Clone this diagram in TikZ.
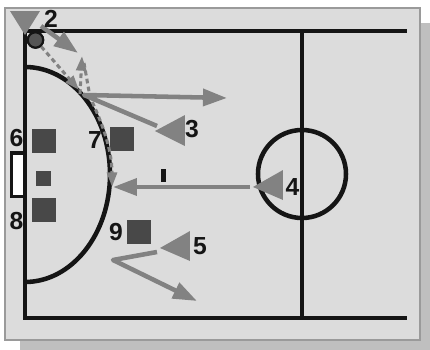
\documentclass[tikz,border=0pt]{standalone}
\usepackage{fontspec}
\setmainfont{Liberation Sans}
\usetikzlibrary{arrows.meta}
\definecolor{panelbg}{HTML}{DCDCDC}
\definecolor{shadowgray}{HTML}{BFBFBF}
\definecolor{bordergray}{HTML}{9A9A9A}
\definecolor{fieldline}{HTML}{151515}
\definecolor{arrowgray}{HTML}{828282}
\definecolor{squaregray}{HTML}{484848}
\definecolor{ballgray}{HTML}{555555}
\begin{document}
\begin{tikzpicture}[x=0.75pt,y=-0.75pt,
  field/.style={draw=fieldline, line width=3.4pt},
  move/.style={draw=arrowgray, line width=3.4pt, line join=round, -{Triangle[length=18pt,width=12.5pt]}},
  pass/.style={draw=arrowgray, line width=2.3pt, dash pattern=on 3.5pt off 2.5pt, -{Triangle[length=11pt,width=7.5pt]}},
  lbl/.style={font=\fontsize{18.5}{18.5}\selectfont\bfseries, inner sep=0pt, text=fieldline},
  player/.style={fill=arrowgray},
  defender/.style={fill=squaregray, draw=none, minimum size=18pt, inner sep=0pt},
  ballstyle/.style={circle, fill=ballgray, draw=fieldline, line width=1.6pt, minimum size=11.5pt, inner sep=0pt},
]
\useasboundingbox (0,0) rectangle (430,350);
% panel and shadow
\fill[shadowgray] (20,23) rectangle (430,350);
\filldraw[fill=panelbg, draw=bordergray, line width=1.1pt] (5,8) rectangle (420,340);
% field
\draw[field] (407,31) -- (25,31) -- (25,318) -- (407,318);
\draw[field] (302,31) -- (302,318);
\draw[field] (302,174) circle[radius=44];
\draw[field] (25,67) arc[start angle=-90, end angle=90, x radius=85, y radius=107.5];
\draw[draw=fieldline, line width=2.6pt, fill=white] (11.5,153) rectangle (25,196.5);
% defenders
\node[defender] (p6) at (44.5,141) {};
\node[defender, minimum size=11.25pt] (gk) at (44,178) {};
\node[defender] (p8) at (44.5,209.5) {};
\node[defender] (p7) at (122,138.5) {};
\node[defender] (p9) at (139,232) {};
% marker
\node[fill=fieldline, minimum width=3.75pt, minimum height=9.75pt, inner sep=0pt] (mark) at (164,175) {};
% ball (anchor for the pass)
\node[ballstyle] (ball) at (35.5,40) {};
% coordinates
\coordinate (pa) at (79,90);
\coordinate (pb) at (80,94);
\coordinate (pc) at (82,56);
\coordinate (pd) at (84,63);
\coordinate (pe) at (90,97);
\coordinate (pf) at (112,187);
\coordinate (a2s) at (41,26);
\coordinate (a2e) at (78,53);
\coordinate (a3s) at (157,126);
\coordinate (a3m) at (84,95);
\coordinate (a3e) at (227,98);
\coordinate (a4s) at (250,187);
\coordinate (a4e) at (113,187);
\coordinate (a5s) at (157,252);
\coordinate (a5m) at (113,260);
\coordinate (a5e) at (197,301);
% passes
\draw[pass] (ball) -- (pa);
\draw[pass] (pb) -- (pc);
\draw[pass] (pd) -- (pe) .. controls (103,125) and (112,150) .. (pf);
% movements
\draw[move] (a2s) -- (a2e);
\draw[move] (a3s) -- (a3m) -- (a3e);
\draw[move] (a4s) -- (a4e);
\draw[move] (a5s) -- (a5m) -- (a5e);
% attackers
\fill[player] (10,11) -- (40,11) -- (25,35) -- cycle;
\fill[player] (155,131) -- (185,115) -- (185,146) -- cycle;
\fill[player] (253,187) -- (283,170) -- (283,200) -- cycle;
\fill[player] (160,248) -- (190,231) -- (190,261) -- cycle;
\node[ballstyle] (ballb) at (35.5,40) {};
% labels
\node[lbl] (l2) at (51,19) {2};
\node[lbl] (l3) at (192,129) {3};
\node[lbl] (l4) at (292.5,187) {4};
\node[lbl] (l5) at (200,246.5) {5};
\node[lbl] (l6) at (16.5,138) {6};
\node[lbl] (l7) at (95,140) {7};
\node[lbl] (l8) at (16.5,221) {8};
\node[lbl] (l9) at (116,232) {9};
\end{tikzpicture}
\end{document}
